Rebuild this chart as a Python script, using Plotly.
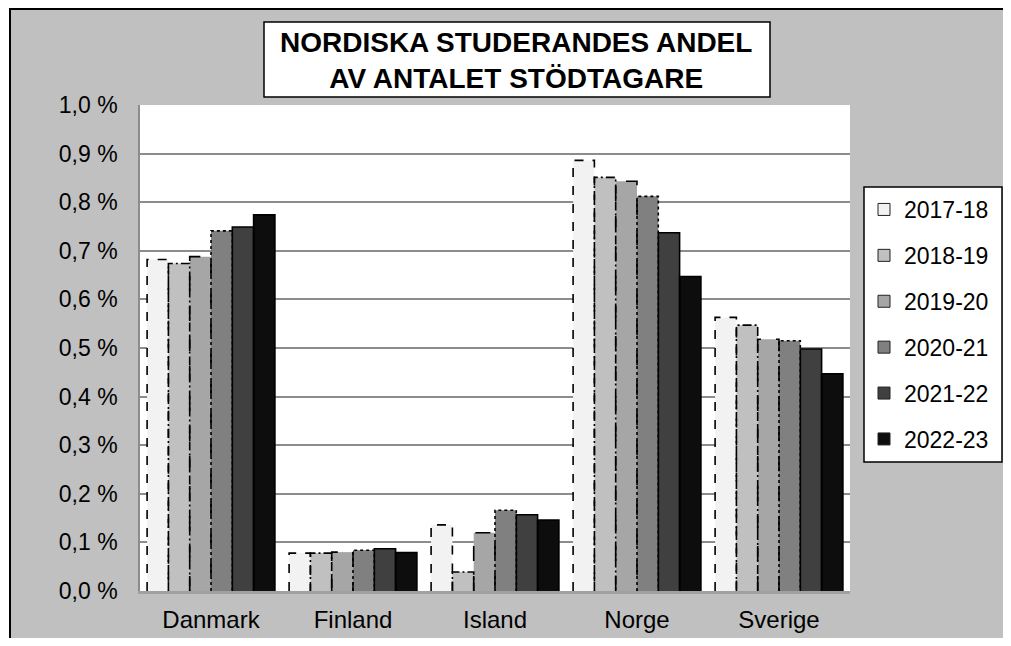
import plotly.graph_objects as go

categories = ["Danmark", "Finland", "Island", "Norge", "Sverige"]
series_names = ["2017-18", "2018-19", "2019-20", "2020-21", "2021-22", "2022-23"]
v_2017_18 = [0.682, 0.078, 0.136, 0.886, 0.563]
v_2018_19 = [0.674, 0.078, 0.039, 0.851, 0.547]
v_2019_20 = [0.688, 0.080, 0.120, 0.843, 0.518]
v_2020_21 = [0.741, 0.084, 0.166, 0.812, 0.515]
v_2021_22 = [0.749, 0.087, 0.157, 0.737, 0.498]
v_2022_23 = [0.774, 0.079, 0.146, 0.647, 0.447]
y_ticks = [0.0, 0.1, 0.2, 0.3, 0.4, 0.5, 0.6, 0.7, 0.8, 0.9, 1.0]

series_values = [v_2017_18, v_2018_19, v_2019_20, v_2020_21, v_2021_22, v_2022_23]
fills = ["#f2f2f2", "#c0c0c0", "#a6a6a6", "#808080", "#404040", "#0d0d0d"]
dashes = ["dash", "9px,3px,2px,3px", "longdash", "dot", "solid", "solid"]

FONT = "Arial, 'Liberation Sans', sans-serif"
n_series = len(series_names)
group = 0.9
bw = group / n_series
xs = list(range(len(categories)))

# figure geometry (the page adds an 8px body margin; keep the page from overflowing)
W, H = 995, 630
ML, MR, MT, MB = 132, 153, 97, 47
PW, PH = W - ML - MR, H - MT - MB


def px(page_x):
    return (page_x - 8 - ML) / PW


def py(page_y):
    return (H - MB - (page_y - 8)) / PH


fig = go.Figure()
for j, (name, vals) in enumerate(zip(series_names, series_values)):
    off = -group / 2 + j * bw
    fig.add_trace(go.Bar(
        x=xs, y=vals, width=bw, offset=off, name=name,
        marker=dict(color=fills[j], line=dict(width=0)),
        showlegend=False, hoverinfo="y",
    ))
    ox, oy = [], []
    for xi, v in zip(xs, vals):
        x0 = xi + off
        x1 = x0 + bw
        ox += [x0, x0, x1, x1, None]
        oy += [0, v, v, 0, None]
    fig.add_trace(go.Scatter(
        x=ox, y=oy, mode="lines", showlegend=False, hoverinfo="skip",
        line=dict(color="black", width=1.6, dash=dashes[j]),
    ))

for j, name in enumerate(series_names):
    fig.add_trace(go.Bar(
        x=[None], y=[None], name=name, legendgroup=name,
        marker=dict(color=fills[j], line=dict(color="#222222", width=1)),
    ))

fig.update_layout(
    width=W, height=H,
    margin=dict(l=ML, r=MR, t=MT, b=MB, autoexpand=False),
    paper_bgcolor="#c0c0c0", plot_bgcolor="white",
    barmode="overlay",
    font=dict(family=FONT, size=23, color="black"),
    showlegend=True,
    legend=dict(
        x=px(864), y=py(188), xanchor="left", yanchor="top",
        bgcolor="rgba(0,0,0,0)", borderwidth=0,
        font=dict(size=23), tracegroupgap=13, itemwidth=30,
    ),
    xaxis=dict(
        range=[-0.5, len(categories) - 0.5], tickvals=xs, ticktext=categories,
        showgrid=False, zeroline=False, showline=True, linecolor="#a0a0a0", linewidth=3,
        ticks="", ticklabelstandoff=5, tickfont=dict(size=24), fixedrange=True,
        automargin=False,
    ),
    yaxis=dict(
        range=[0, 1.0], tickvals=y_ticks,
        ticktext=[f"{v:.1f} %".replace(".", ",") for v in y_ticks],
        showgrid=True, gridcolor="#8c8c8c", gridwidth=1.5, zeroline=False,
        showline=True, linecolor="#8c8c8c", linewidth=1.5,
        ticks="", ticklabelstandoff=16, tickfont=dict(size=23),
        automargin=False,
    ),
    annotations=[dict(
        text="<b>NORDISKA STUDERANDES ANDEL<br>AV ANTALET STÖDTAGARE</b>",
        xref="paper", yref="paper", x=px(516), y=py(60),
        xanchor="center", yanchor="middle", showarrow=False,
        font=dict(size=28, family=FONT, color="black"),
    )],
    shapes=[
        # title box
        dict(type="rect", xref="paper", yref="paper", layer="below",
             x0=px(264), x1=px(770), y0=py(97), y1=py(22),
             fillcolor="white", line=dict(color="black", width=1.5)),
        # legend box
        dict(type="rect", xref="paper", yref="paper", layer="below",
             x0=px(864), x1=px(1002), y0=py(462), y1=py(187),
             fillcolor="white", line=dict(color="black", width=1.5)),
        # outer frame: white edge and black border lines on the top and left
        dict(type="rect", xref="paper", yref="paper", layer="above",
             x0=px(8), x1=px(9), y0=py(638), y1=py(8),
             fillcolor="white", line=dict(width=0)),
        dict(type="line", xref="paper", yref="paper", layer="above",
             x0=px(10), x1=px(10), y0=py(638), y1=py(8),
             line=dict(color="black", width=2)),
        dict(type="line", xref="paper", yref="paper", layer="above",
             x0=px(9), x1=px(1003), y0=py(9), y1=py(9),
             line=dict(color="black", width=2)),
    ],
)

fig.write_html("out.html")
